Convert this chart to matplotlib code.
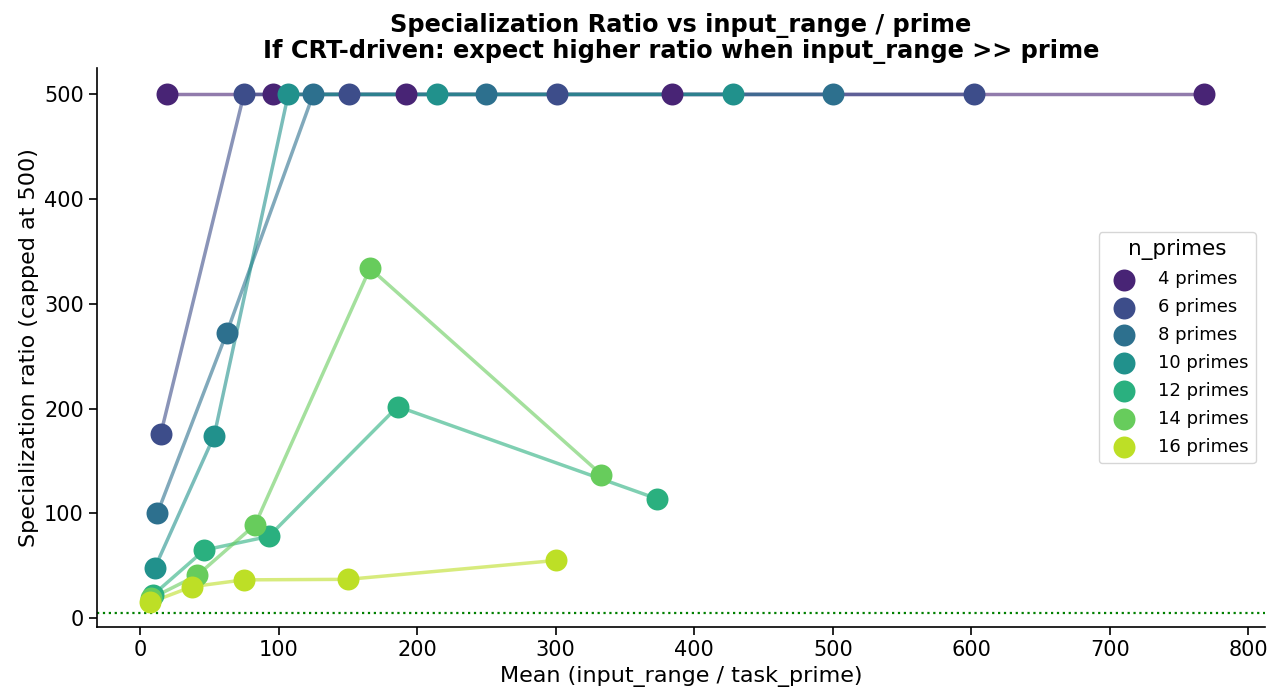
import numpy as np
import matplotlib
matplotlib.use("Agg")
import matplotlib.pyplot as plt

# mean(input_range / task_prime) and specialization ratio (capped at 500) per n_primes
n_primes = [4, 6, 8, 10, 12, 14, 16]

x_4 = [19.5, 96, 192, 384, 768]
y_4 = [500, 500, 500, 500, 500]

x_6 = [15, 75, 151, 301, 602]
y_6 = [176, 500, 500, 500, 500]

x_8 = [12.5, 62.5, 125, 250, 500]
y_8 = [100, 272, 500, 500, 500]

x_10 = [10.7, 53.5, 107, 214, 428]
y_10 = [48, 174, 500, 500, 500]

x_12 = [9.3, 46.5, 93, 186, 373]
y_12 = [22, 65, 78, 202, 114]

x_14 = [8.3, 41.5, 83, 166, 333]
y_14 = [19, 41, 89, 334, 137]

x_16 = [7.5, 37.5, 75, 150, 300]
y_16 = [15, 30, 36.5, 37, 55]

xs = [x_4, x_6, x_8, x_10, x_12, x_14, x_16]
ys = [y_4, y_6, y_8, y_10, y_12, y_14, y_16]

baseline = 5

colors = plt.cm.viridis(np.linspace(0.1, 0.9, len(n_primes)))

fig = plt.figure(figsize=(12.87, 6.96), dpi=100)
ax = fig.add_axes([0.0754, 0.099, 0.9076, 0.803])

# lines first, points on top
for i, n in enumerate(n_primes):
    order = np.argsort(xs[i])
    ax.plot(np.array(xs[i])[order], np.array(ys[i])[order], color=colors[i],
            alpha=0.6, lw=2.5, zorder=2)
for i, n in enumerate(n_primes):
    ax.scatter(xs[i], ys[i], s=250, color=colors[i], linewidth=0,
               label=f"{n} primes", zorder=3)

ax.axhline(baseline, color="green", ls=":", lw=1.6, zorder=1)

ax.set_xlim(-31, 812)
ax.set_ylim(-8.6, 525)
ax.set_xticks(range(0, 801, 100))
ax.set_yticks(range(0, 501, 100))
ax.tick_params(labelsize=15, length=6, width=1.2)
for s in ["left", "bottom"]:
    ax.spines[s].set_linewidth(1.2)
ax.spines["top"].set_visible(False)
ax.spines["right"].set_visible(False)

ax.set_xlabel("Mean (input_range / task_prime)", fontsize=16)
ax.set_ylabel("Specialization ratio (capped at 500)", fontsize=16)
ax.set_title("Specialization Ratio vs input_range / prime\n"
             "If CRT-driven: expect higher ratio when input_range >> prime",
             fontsize=17.3, fontweight="bold", linespacing=1.1, pad=7)

leg = ax.legend(title="n_primes", loc="center right", fontsize=13,
                title_fontsize=15.5, handletextpad=0.9, labelspacing=0.55)

fig.savefig("out.png", dpi=100)
